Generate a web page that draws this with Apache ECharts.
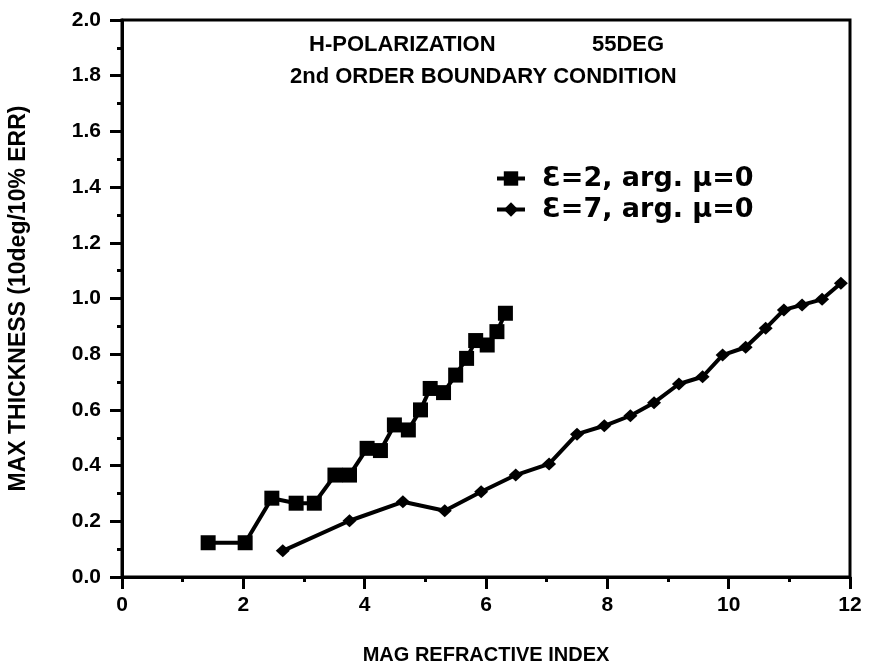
<!DOCTYPE html>
<html>
<head>
<meta charset="utf-8">
<script src="https://cdn.jsdelivr.net/npm/echarts@6/dist/echarts.min.js"></script>
<style>
html, body { margin: 0; padding: 0; background: #fff; }
#chart { width: 872px; height: 670px; }
</style>
</head>
<body>
<div id="chart"></div>
<script>
(function() {

// eps=2 series (squares)
let eps2X = [1.42, 2.03, 2.47, 2.87, 3.17, 3.51, 3.75, 4.04, 4.26, 4.49, 4.72, 4.92, 5.08, 5.30, 5.50, 5.68, 5.83, 6.02, 6.18, 6.32]
let eps2Y = [0.123, 0.123, 0.283, 0.265, 0.265, 0.366, 0.366, 0.462, 0.454, 0.546, 0.528, 0.60, 0.677, 0.662, 0.725, 0.785, 0.849, 0.833, 0.881, 0.947]
// eps=7 series (diamonds)
let eps7X = [2.65, 3.75, 4.63, 5.32, 5.92, 6.49, 7.04, 7.50, 7.95, 8.38, 8.77, 9.18, 9.57, 9.90, 10.28, 10.61, 10.91, 11.21, 11.54, 11.85]
let eps7Y = [0.094, 0.202, 0.27, 0.238, 0.306, 0.366, 0.406, 0.513, 0.543, 0.579, 0.626, 0.693, 0.719, 0.797, 0.825, 0.893, 0.959, 0.977, 0.997, 1.055]

let seriesNames = ['\u0190=2, arg. \u03bc=0', '\u0190=7, arg. \u03bc=0']
let titleWords = ['H-POLARIZATION', '55DEG', '2nd ORDER BOUNDARY CONDITION']

const font = '"Liberation Sans", Arial, sans-serif'
const wide = '"DejaVu Sans", sans-serif'
let pairs = (xs, ys) => xs.map((x, i) => [x, ys[i]])
let tstyle = { fontFamily: font, fontSize: 22, fontWeight: 'bold', color: '#000' }

let chart = echarts.init(document.getElementById('chart'))
chart.setOption({
    backgroundColor: '#fff',
    animation: false,
    title: [
        { text: titleWords[0], left: 309, top: 34, padding: 0, textStyle: tstyle },
        { text: titleWords[1], left: 592, top: 34, padding: 0, textStyle: tstyle },
        { text: titleWords[2], left: 290, top: 66, padding: 0, textStyle: tstyle }
    ],
    legend: {
        orient: 'vertical',
        left: 495,
        top: 165,
        padding: 0,
        itemWidth: 28,
        itemHeight: 18,
        itemGap: 4,
        data: seriesNames,
        lineStyle: { width: 4 },
        textStyle: { fontFamily: wide, fontSize: 27, fontWeight: 'bold', color: '#000', padding: [0, 0, 0, 12] }
    },
    grid: {
        left: 122, right: 22, top: 20, bottom: 93,
        outerBoundsMode: 'none',
        containLabel: false,
        show: true, borderColor: '#000', borderWidth: 3
    },
    xAxis: {
        type: 'value', min: 0, max: 12, interval: 2,
        name: 'MAG REFRACTIVE INDEX', nameLocation: 'middle', nameGap: 68,
        nameTextStyle: { fontFamily: font, fontSize: 20, fontWeight: 'bold', color: '#000' },
        axisLine: { lineStyle: { color: '#000', width: 3 } },
        axisTick: { length: 12, lineStyle: { color: '#000', width: 3 } },
        minorTick: { show: true, splitNumber: 2, length: 5, lineStyle: { color: '#000', width: 3 } },
        splitLine: { show: false },
        axisLabel: { margin: 18, fontFamily: font, fontSize: 21, fontWeight: 'bold', color: '#000' }
    },
    yAxis: {
        type: 'value', min: 0, max: 2, interval: 0.2,
        name: 'MAX THICKNESS (10deg/10% ERR)', nameLocation: 'middle', nameGap: 92,
        nameTextStyle: { fontFamily: font, fontSize: 23, fontWeight: 'bold', color: '#000' },
        axisLine: { lineStyle: { color: '#000', width: 3 } },
        axisTick: { length: 12, lineStyle: { color: '#000', width: 3 } },
        minorTick: { show: true, splitNumber: 2, length: 5, lineStyle: { color: '#000', width: 3 } },
        splitLine: { show: false },
        axisLabel: { margin: 21, fontFamily: font, fontSize: 21, fontWeight: 'bold', color: '#000',
            formatter: v => v.toFixed(1) }
    },
    series: [
        {
            name: seriesNames[0], type: 'line', data: pairs(eps2X, eps2Y),
            symbol: 'rect', symbolSize: 15,
            itemStyle: { color: '#000' },
            lineStyle: { color: '#000', width: 4 }
        },
        {
            name: seriesNames[1], type: 'line', data: pairs(eps7X, eps7Y),
            symbol: 'diamond', symbolSize: [14, 13],
            itemStyle: { color: '#000' },
            lineStyle: { color: '#000', width: 4 }
        }
    ]
})

})()
</script>
</body>
</html>
